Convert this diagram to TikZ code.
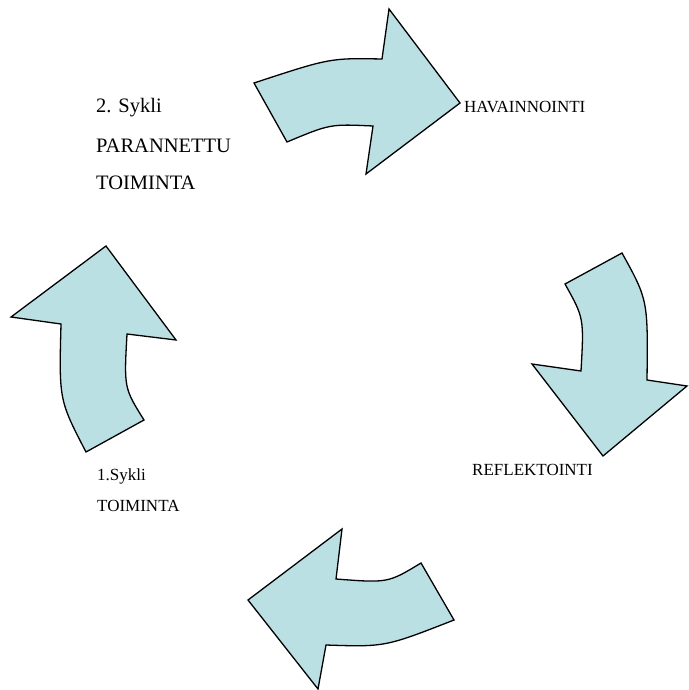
\documentclass[tikz,border=0pt]{standalone}
\usepackage{fontspec}
\setmainfont{Liberation Serif}
\definecolor{arrowfill}{RGB}{187,224,227}
\tikzset{
  cyclearrow/.style={draw=black, fill=arrowfill, line width=1.3pt, line join=miter},
  bigtext/.style={anchor=west, inner sep=0pt, font=\fontsize{20.5}{24}\selectfont},
  smalltext/.style={anchor=west, inner sep=0pt, font=\fontsize{17}{20}\selectfont}
}
\begin{document}
\begin{tikzpicture}[x=1pt,y=-1pt]
\useasboundingbox (0,0) rectangle (688,690);
% top arrow
\path[cyclearrow] (254,83) .. controls (330,58) .. (382,59) -- (389,9) -- (460,103) -- (366,174) -- (373,126) .. controls (330,124) .. (287,142) -- cycle;
% right arrow
\path[cyclearrow] (565,284) -- (622,253) .. controls (648,300) .. (647,380) -- (687,386) -- (603,456) -- (532,364) -- (581,371) .. controls (584,318) .. (565,284) -- cycle;
% bottom arrow
\path[cyclearrow] (421,563) -- (454,620) .. controls (385,647) .. (326,645) -- (318,689) -- (248,600) -- (342,529) -- (336,579) .. controls (388,583) .. (421,563) -- cycle;
% left arrow
\path[cyclearrow] (106,246) -- (176,340) -- (127,334) .. controls (124,388) .. (144,420) -- (86,452) .. controls (59,400) .. (61,324) -- (11,317) -- cycle;
% texts
\node[smalltext] (hav) at (464,107) {HAVAINNOINTI};
\node[smalltext] (ref) at (472,470) {REFLEKTOINTI};
\node[bigtext] (s2) at (96,108) {2. Sykli};
\node[bigtext] (par) at (96,146) {PARANNETTU};
\node[bigtext] (toi2) at (96,183) {TOIMINTA};
\node[smalltext] (s1) at (97,476) {1.Sykli};
\node[smalltext] (toi1) at (97,506) {TOIMINTA};
\end{tikzpicture}
\end{document}
